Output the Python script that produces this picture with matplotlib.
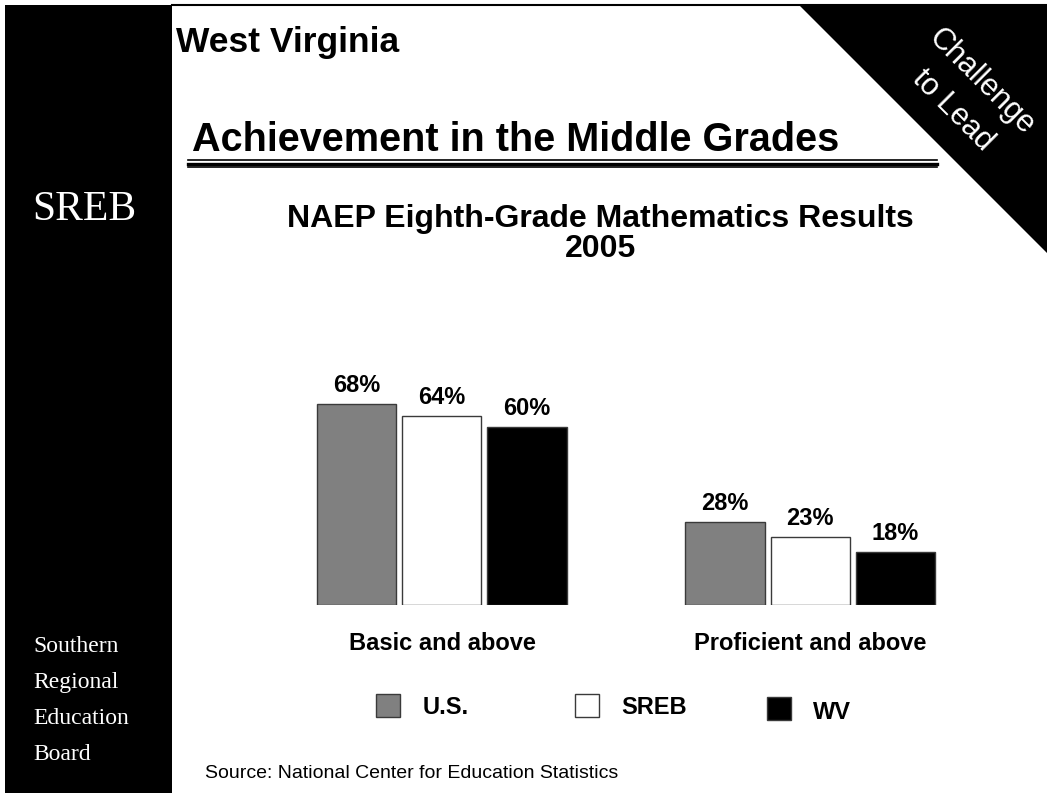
import matplotlib
matplotlib.use('Agg')
import matplotlib.pyplot as plt
from matplotlib.patches import Rectangle, Polygon
from matplotlib.lines import Line2D
from matplotlib import font_manager

# NAEP 2005 eighth-grade math, percent at each level
categories = ['Basic and above', 'Proficient and above']
series = ['U.S.', 'SREB', 'WV']
us_pct = [68, 28]
sreb_pct = [64, 23]
wv_pct = [60, 18]
values = [us_pct, sreb_pct, wv_pct]
fills = ['#808080', 'white', 'black']

plt.rcParams['font.family'] = ['Liberation Sans', 'DejaVu Sans']

W, H = 1047, 793
fig = plt.figure(figsize=(W / 100, H / 100), dpi=100)


def fx(x):
    return x / W


def fy(y):
    return 1 - y / H


def has_font(name):
    try:
        font_manager.findfont(name, fallback_to_default=False)
        return True
    except ValueError:
        return False


# left black column and frame
fig.patches.append(Rectangle((fx(5), 0), fx(172) - fx(5), fy(5), transform=fig.transFigure,
                             facecolor='black', edgecolor='none'))
fig.lines.append(Line2D([fx(172), 1], [fy(5), fy(5)], transform=fig.transFigure,
                        color='black', lw=1.5))
# corner banner
fig.patches.append(Polygon([(fx(798), fy(4)), (1, fy(4)), (1, fy(253))], closed=True,
                           transform=fig.transFigure, facecolor='black', edgecolor='none'))
fig.text(fx(967), fy(96), 'Challenge\nto Lead', color='white', fontsize=22, rotation=-45,
         ha='center', va='center', multialignment='center', linespacing=1.5,
         rotation_mode='anchor')

fig.text(fx(176), fy(52), 'West Virginia', fontsize=25.5, fontweight='bold', va='baseline')

if has_font('Liberation Sans Narrow'):
    fig.text(fx(192), fy(151), 'Achievement in the Middle Grades', fontsize=34,
             fontweight='bold', family=['Liberation Sans Narrow', 'DejaVu Sans'], va='baseline')
else:
    fig.text(fx(192), fy(151), 'Achievement in the Middle Grades', fontsize=28.5,
             fontweight='bold', va='baseline')

# triple rule under the heading
for y, lw in [(160, 1.2), (163.5, 2.4), (167, 1.2)]:
    fig.lines.append(Line2D([fx(188), fx(937)], [fy(y), fy(y)], transform=fig.transFigure,
                            color='black', lw=lw))

serif = ['Liberation Serif', 'DejaVu Serif']
fig.text(fx(32), fy(220), 'SREB', color='white', fontsize=30, family=serif, va='baseline')
for i, word in enumerate(['Southern', 'Regional', 'Education', 'Board']):
    fig.text(fx(33), fy(652 + 36 * i), word, color='white', fontsize=17, family=serif,
             va='baseline')

fig.text(fx(600), fy(227), 'NAEP Eighth-Grade Mathematics Results', fontsize=23,
         fontweight='bold', ha='center', va='baseline')
fig.text(fx(600), fy(257), '2005', fontsize=23, fontweight='bold', ha='center', va='baseline')

# bars
ax = fig.add_axes([fx(290), fy(605), (962 - 290) / W, 300 / H])
ax.set_xlim(-0.413, 1.413)
ax.set_ylim(0, 101.4)
ax.axis('off')

width = 0.2147
step = 0.231
for j, (vals, fc) in enumerate(zip(values, fills)):
    xs = [i + (j - 1) * step for i in range(len(categories))]
    ax.bar(xs, vals, width=width, color=fc, edgecolor='#3a3a3a', linewidth=1)
    for x, v in zip(xs, vals):
        ax.annotate(f'{v}%', (x, v), xytext=(0, 12), textcoords='offset pixels',
                    ha='center', va='baseline', fontsize=17, fontweight='bold')

for i, cat in enumerate(categories):
    ax.text(i, -0.15, cat, transform=ax.get_xaxis_transform(), ha='center', va='baseline',
            fontsize=17, fontweight='bold')

# legend
legend_pos = [(376, 694, 423, 714), (575, 694, 621, 714), (767, 697, 813, 719)]
for name, fc, (sx, sy, tx, ty) in zip(series, fills, legend_pos):
    fig.patches.append(Rectangle((fx(sx), fy(sy + 23)), 24 / W, 23 / H,
                                 transform=fig.transFigure, facecolor=fc,
                                 edgecolor='#3a3a3a', lw=1))
    fig.text(fx(tx), fy(ty), name, fontsize=17, fontweight='bold', va='baseline')

fig.text(fx(205), fy(778), 'Source: National Center for Education Statistics', fontsize=14,
         va='baseline')

fig.savefig('out.png', dpi=100)
